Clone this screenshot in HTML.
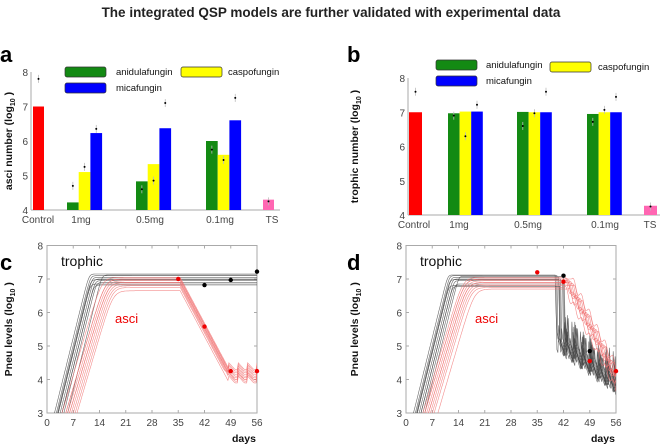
<!DOCTYPE html>
<html><head><meta charset="utf-8"><style>
html,body{margin:0;background:#fff;font-family:"Liberation Sans",sans-serif;width:662px;height:447px;overflow:hidden}
svg{display:block}
</style></head><body>
<svg id="s" width="662" height="447" viewBox="0 0 662 447" xmlns="http://www.w3.org/2000/svg" font-family="Liberation Sans, sans-serif" overflow="hidden">
<text x="331" y="17" text-anchor="middle" font-size="13.5" font-weight="bold" fill="#222">The integrated QSP models are further validated with experimental data</text>
<g id="ga"></g>
<g id="gb"></g>
<g id="gc"></g>
<g id="gd"></g>
</svg>
<script>
// ---- bar chart data ----
const groups = ["Control","1mg","0.5mg","0.1mg","TS"];
const drugs = ["anidulafungin","caspofungin","micafungin"];
const ascControl = 7.0, ascTS = 4.3;
const ascAnid = [4.22,4.83,6.0];
const ascCasp = [5.1,5.33,5.6];
const ascMica = [6.23,6.37,6.6];
const ascPtControl = 7.8, ascPtTS = 4.25;
const ascPtAnid = [4.7,4.6,5.75];
const ascPtCasp = [5.25,4.85,5.45];
const ascPtMica = [6.35,7.1,7.25];
const troControl = 7.0, troTS = 4.27;
const troAnid = [6.97,7.01,6.95];
const troCasp = [7.02,7.0,7.0];
const troMica = [7.02,7.0,7.0];
const troPtControl = 7.6, troPtTS = 4.25;
const troPtAnid = [6.9,6.6,6.72];
const troPtCasp = [6.3,6.97,7.07];
const troPtMica = [7.22,7.6,7.45];
const barTicks = [4,5,6,7,8];
// ---- time course data ----
const lineTicksX = [0,7,14,21,28,35,42,49,56];
const lineTicksY = [3,4,5,6,7,8];
const troOnsetC = [2,2.5,3,3.5,4,4.5,3,4,5.5,2.8];
const troPlatC = [7.15,7.1,7.05,7.0,6.95,6.9,6.85,6.82,7.12,6.98];
const ascOnsetC = [4,5,5.5,6,6.5,7,7.5,8,5,6];
const ascPlatC = [7.05,7.0,6.95,6.9,6.85,6.8,6.75,6.65,7.0,6.9];
const ascFloorC = [4.15,4.05,4.0,4.2,3.95,4.1,4.25,3.9,4.3,4.0];
const troOnsetD = [2,2.5,3,3.5,4,4.5,3,4,5,2.8];
const troPlatD = [7.12,7.1,7.05,7.0,6.95,6.85,6.8,6.78,7.08,6.98];
const troDropD = [40,40.5,41,41.5,42,42.5,40.2,41.2,42.2,40.8];
const ascOnsetD = [4.5,5,5.5,6,6.5,7,7.5,8.5,5,6];
const ascPlatD = [7.05,7.0,6.95,6.9,6.85,6.8,6.75,6.7,7.0,6.9];
const ascDropD = [42,42.5,43,43.5,44,44.5,42.2,43.2,44.2,42.8];
const cTroPtsX = [42,49,56], cTroPtsY = [6.82,6.97,7.22];
const cAscPtsX = [35,42,49,56], cAscPtsY = [7.0,5.58,4.25,4.25];
const dTroPtsX = [42,49], dTroPtsY = [7.1,4.85];
const dAscPtsX = [35,42,49,56], dAscPtsY = [7.2,6.92,4.55,4.25];

const NS="http://www.w3.org/2000/svg";
function mk(parent,tag,attrs,text){const e=document.createElementNS(NS,tag);for(const k in attrs)e.setAttribute(k,attrs[k]);if(text!==undefined)e.textContent=text;parent.appendChild(e);return e;}

function barPanel(g,o){
  const y=v=>o.y4-(v-4)*(o.y4-o.y8)/4;
  mk(g,'line',{x1:o.ax,y1:o.y8,x2:o.ax,y2:o.y4,stroke:'#aaa','stroke-width':1});
  mk(g,'line',{x1:o.ax,y1:o.y4,x2:o.right,y2:o.y4,stroke:'#aaa','stroke-width':1});
  barTicks.forEach(t=>{
    const tl=mk(g,'text',{x:o.ax-3,y:y(t)+4,'text-anchor':'end','font-size':10,fill:'#444'},t);
    
    
  });
  const lab=mk(g,'text',{transform:`translate(${o.ylx},${(o.y4+o.y8)/2}) rotate(-90)`,'text-anchor':'middle','font-size':10.5,'font-weight':'bold',fill:'#111'});
  
  lab.innerHTML=o.ylab+' (log<tspan font-size="7" dy="3">10</tspan><tspan dy="-3"> )</tspan>';
  const colors=['#138a13','#ffff00','#0000ff'];
  const bars=(x0,w,v,c,p,name)=>{
    const r=mk(g,'rect',{x:x0,y:y(v),width:w,height:y(4)-y(v),fill:c});
    
    mk(g,'line',{x1:x0+w/2,y1:y(p)-4,x2:x0+w/2,y2:y(p)+4,stroke:'#bbb','stroke-width':0.8});
    const d=mk(g,'circle',{cx:x0+w/2,cy:y(p),r:1,fill:'#000'});
    
  };
  bars(o.ctrlX,o.bw,o.control,'#ff0000',o.ptControl,'bar-control');
  bars(o.tsX,o.bw,o.ts,'#ff66b2',o.ptTS,'bar-ts');
  o.grpX.forEach((gx,i)=>{
    bars(gx,o.gw,o.anid[i],colors[0],o.ptAnid[i],'bar-anidulafungin-'+groups[i+1]);
    bars(gx+o.gw,o.gw,o.casp[i],colors[1],o.ptCasp[i],'bar-caspofungin-'+groups[i+1]);
    bars(gx+2*o.gw,o.gw,o.mica[i],colors[2],o.ptMica[i],'bar-micafungin-'+groups[i+1]);
  });
  o.labX.forEach((lx,i)=>{
    const t=mk(g,'text',{x:lx,y:o.y4+13,'text-anchor':'middle','font-size':10,fill:'#444'},groups[i]);
    
  });
  o.leg.forEach((L,i)=>{
    const r=mk(g,'rect',{x:L[0],y:L[1],width:41,height:10,rx:2,fill:colors[i],stroke:'#333','stroke-width':0.7});
    
    const t=mk(g,'text',{x:L[2],y:L[1]+8,'font-size':9.5,fill:'#111'},drugs[i]);
    
  });
  const pl=mk(g,'text',{x:o.plx,y:o.ply,'font-size':22,'font-weight':'bold',fill:'#000'},o.letter);
  
}
barPanel(document.getElementById('ga'),{ax:31,y8:72,y4:210,right:280,ylx:12,ylab:'asci number',
  ctrlX:33,tsX:263,bw:11,grpX:[67,136,206],gw:11.7,labX:[38,81,150,220,272],
  control:ascControl,ts:ascTS,anid:ascAnid,casp:ascCasp,mica:ascMica,
  ptControl:ascPtControl,ptTS:ascPtTS,ptAnid:ascPtAnid,ptCasp:ascPtCasp,ptMica:ascPtMica,
  leg:[[65,67,116],[181,67,228],[65,83,116]],plx:0,ply:62,letter:'a'});
barPanel(document.getElementById('gb'),{ax:408,y8:78,y4:215,right:660,ylx:358,ylab:'trophic number',
  ctrlX:409,tsX:644,bw:13,grpX:[448,517,587],gw:11.6,labX:[414,459,528,605,650],
  control:troControl,ts:troTS,anid:troAnid,casp:troCasp,mica:troMica,
  ptControl:troPtControl,ptTS:troPtTS,ptAnid:troPtAnid,ptCasp:troPtCasp,ptMica:troPtMica,
  leg:[[436,60,486],[550,62,598],[436,76,486]],plx:347,ply:62,letter:'b'});

function softmin(a,b,s){return -s*Math.log(Math.exp(-a/s)+Math.exp(-b/s));}
function linePanel(g,o){
  const x=t=>o.x0+(t/56)*(o.x56-o.x0);
  const y=v=>o.y3-(v-3)*(o.y3-o.y7)/4;
  mk(g,'rect',{x:o.x0,y:y(8),width:o.x56-o.x0,height:y(3)-y(8),fill:'none',stroke:'#aaa','stroke-width':1});
  lineTicksX.forEach(t=>{
    mk(g,'line',{x1:x(t),y1:y(3),x2:x(t),y2:y(3)-3,stroke:'#aaa'});
    mk(g,'line',{x1:x(t),y1:y(8),x2:x(t),y2:y(8)+3,stroke:'#aaa'});
    const l=mk(g,'text',{x:x(t),y:y(3)+13,'text-anchor':'middle','font-size':10,fill:'#444'},t);
    
  });
  lineTicksY.forEach(t=>{
    mk(g,'line',{x1:o.x0,y1:y(t),x2:o.x0+3,y2:y(t),stroke:'#aaa'});
    mk(g,'line',{x1:o.x56,y1:y(t),x2:o.x56-3,y2:y(t),stroke:'#aaa'});
    const l=mk(g,'text',{x:o.x0-4,y:y(t)+4,'text-anchor':'end','font-size':10,fill:'#444'},t);
    
  });
  const clipId='clip'+o.letter;
  const cp=mk(g,'clipPath',{id:clipId});mk(cp,'rect',{x:o.x0,y:y(8),width:o.x56-o.x0,height:y(3)-y(8)});
  const lg=mk(g,'g',{'clip-path':`url(#${clipId})`});
  const draw=(fn,color,name)=>{
    let d='';for(let t=0;t<=56;t+=0.25){const v=fn(t);d+=(t?'L':'M')+x(t).toFixed(1)+','+y(v).toFixed(1);}
    const p=mk(lg,'path',{d:d,fill:'none',stroke:color,'stroke-width':0.6,opacity:0.8});
    
  };
  o.curves(draw);
  const pts=(xs,ys,c,name)=>xs.forEach((t,i)=>{
    const d=mk(g,'circle',{cx:x(t),cy:y(ys[i]),r:2.2,fill:c});
    
  });
  pts(o.tpx,o.tpy,'#000','trophic-data-point');
  pts(o.apx,o.apy,'#e00','asci-data-point');
  const lab=mk(g,'text',{transform:`translate(${o.ylx},${(y(3)+y(8))/2}) rotate(-90)`,'text-anchor':'middle','font-size':10.5,'font-weight':'bold',fill:'#111'});
  
  lab.innerHTML='Pneu levels (log<tspan font-size="7" dy="3">10</tspan><tspan dy="-3"> )</tspan>';
  const dl=mk(g,'text',{x:o.x56-25,y:442,'font-size':10.5,'font-weight':'bold',fill:'#111'},'days');
  
  const tl=mk(g,'text',{x:o.x0+14,y:266,'font-size':14,fill:'#111'},'trophic');
  
  const al=mk(g,'text',{x:o.ascX,y:323,'font-size':13,fill:'#e00'},'asci');
  
  const pl=mk(g,'text',{x:o.plx,y:270,'font-size':22,'font-weight':'bold',fill:'#000'},o.letter);
  
}
linePanel(document.getElementById('gc'),{x0:47,x56:257,y7:279,y3:413,ylx:12,ascX:115,plx:0,letter:'c',
  tpx:cTroPtsX,tpy:cTroPtsY,apx:cAscPtsX,apy:cAscPtsY,
  curves:(draw)=>{
    troOnsetC.forEach((t0,i)=>draw(t=>softmin(3+0.45*(t-t0),troPlatC[i],0.15),'#444','trophic-curve'));
    ascOnsetC.forEach((t0,i)=>{
      const rise=t=>softmin(3+0.38*(t-t0),ascPlatC[i],0.35);
      const top=rise(35.5);
      draw(t=>{ if(t<35.5) return rise(t);
        const lin=top-0.21*(t-35.5);
        const ph=((t-46)%2.5+2.5)%2.5;
        const fl=ascFloorC[i]+0.2*Math.max(0,1-ph/1.6)*(t>46?1:0);
        return Math.max(lin,fl);},'#f07070','asci-curve');
    });
  }});
linePanel(document.getElementById('gd'),{x0:406,x56:616,y7:279,y3:413,ylx:358,ascX:475,plx:347,letter:'d',
  tpx:dTroPtsX,tpy:dTroPtsY,apx:dAscPtsX,apy:dAscPtsY,
  curves:(draw)=>{
    troOnsetD.forEach((t0,i)=>{
      const td=troDropD[i];
      draw(t=>{ const r=softmin(3+0.45*(t-t0),troPlatD[i],0.12);
        if(t<td) return r;
        const env=5.4-0.08*(t-td);
        const ph=(t-td+i*0.3)%2.2;
        return env-0.6*(ph/2.2)+(ph<0.3?0.6*(1-ph/0.3):0);},'#444','trophic-curve');
    });
    ascOnsetD.forEach((t0,i)=>{
      const td=ascDropD[i];
      const rise=t=>softmin(3+0.38*(t-t0),ascPlatD[i],0.35);
      const top=rise(td);
      draw(t=>{ if(t<td) return rise(t);
        return top-0.22*(t-td)+0.12*Math.sin((t-td)*3.0);},'#f07070','asci-curve');
    });
  }});
</script>
</body></html>
